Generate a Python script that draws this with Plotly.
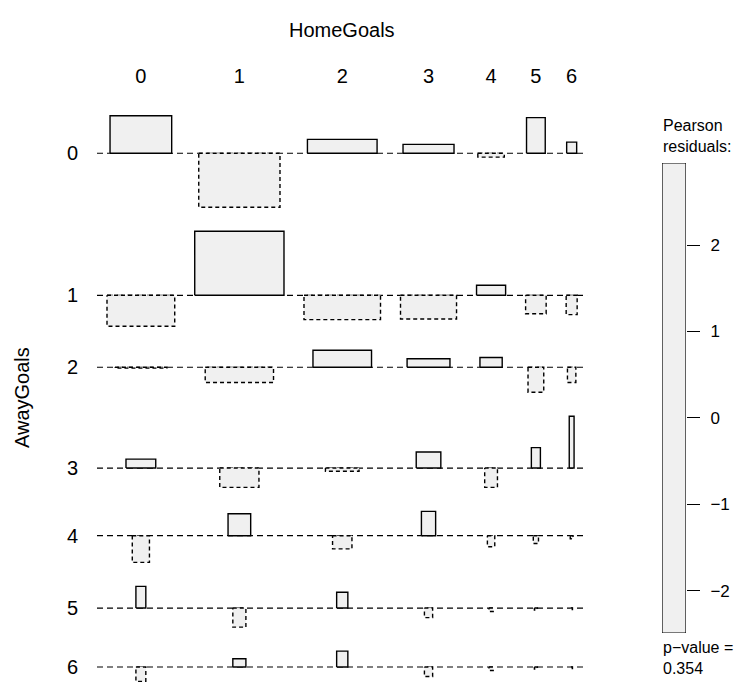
import numpy as np
import plotly.graph_objects as go

home_goals = ["0", "1", "2", "3", "4", "5", "6"]
away_goals = ["0", "1", "2", "3", "4", "5", "6"]

# marginal totals (matches)
away_totals = [116, 140, 82, 27, 9, 3, 3]
home_totals = [76, 132, 97, 52, 14, 7, 2]

# Pearson residuals, rows = AwayGoals, columns = HomeGoals
residuals = [
    [1.73, -2.49, 0.64, 0.41, -0.18, 1.64, 0.51],
    [-1.43, 2.95, -1.12, -1.09, 0.46, -0.85, -0.89],
    [-0.04, -0.70, 0.78, 0.39, 0.45, -1.15, -0.70],
    [0.41, -0.89, -0.15, 0.74, -0.89, 0.94, 2.39],
    [-1.23, 1.01, -0.61, 1.12, -0.51, -0.36, -0.14],
    [1.00, -0.88, 0.73, -0.44, -0.16, -0.09, -0.07],
    [-0.66, 0.38, 0.73, -0.44, -0.16, -0.09, -0.07],
]
p_value = 0.354

# the page body has an 8px margin, so the figure is drawn 8px in from the corner
OFF = 8
W, H = 746 - OFF, 683 - OFF
FONT = "Liberation Sans, Arial, Helvetica, sans-serif"
FILL = "#F0F0F0"
K = 12.8   # px per sqrt(expected)
S = 21.7   # px per residual unit
GAP_X = 20 / K
GAP_Y = 24 / S
LEFT_PX, TOP_PX = 97 - OFF, 115.7 - OFF

res = np.array(residuals)
n = sum(home_totals)
expected = np.outer(away_totals, home_totals) / n
widths = np.sqrt(expected)

# column layout: slot = widest cell in the column
slot = widths.max(axis=0)
col_left = GAP_X / 2 + np.concatenate([[0], np.cumsum(slot + GAP_X)[:-1]])
col_center = col_left + slot / 2
x_total = slot.sum() + GAP_X * len(slot)

# row layout: height = max positive + max negative residual in the row
pos = np.clip(res, 0, None).max(axis=1)
neg = -np.clip(res, None, 0).min(axis=1)
row_top = -np.concatenate([[0], np.cumsum(pos + neg + GAP_Y)[:-1]])
baseline = row_top - pos

fig = go.Figure()

for i in range(len(away_goals)):
    fig.add_trace(
        go.Scatter(
            x=[0, x_total], y=[baseline[i]] * 2, mode="lines",
            line=dict(color="black", width=1.2, dash="6px,4px"),
            hoverinfo="skip", showlegend=False,
        )
    )
    for j in range(len(home_goals)):
        r, w, c = res[i, j], widths[i, j], col_center[j]
        x0, x1 = c - w / 2, c + w / 2
        fig.add_trace(
            go.Scatter(
                x=[x0, x1, x1, x0, x0],
                y=[baseline[i], baseline[i], baseline[i] + r, baseline[i] + r, baseline[i]],
                mode="lines", fill="toself", fillcolor=FILL,
                line=dict(color="black", width=1.4, dash="solid" if r >= 0 else "4px,3px"),
                hovertemplate=f"Home {home_goals[j]}, Away {away_goals[i]}<br>residual {r:.2f}<extra></extra>",
                showlegend=False,
            )
        )

# legend bar
rmin, rmax = res.min(), res.max()
fig.add_trace(
    go.Scatter(
        x=[0, 1, 1, 0, 0], y=[rmin, rmin, rmax, rmax, rmin],
        mode="lines", fill="toself", fillcolor=FILL,
        line=dict(color="black", width=1.2),
        xaxis="x2", yaxis="y2", hoverinfo="skip", showlegend=False,
    )
)

plot_top = 88 - OFF
y_hi = (TOP_PX - plot_top) / S
y_lo = -(H - TOP_PX) / S
leg_top, leg_bot = 163 - OFF, 633 - OFF
tick_font = dict(family=FONT, size=20, color="black")

fig.update_layout(
    width=W, height=H,
    margin=dict(l=0, r=0, t=0, b=0),
    paper_bgcolor="white", plot_bgcolor="white",
    font=dict(family=FONT, color="black"),
    xaxis=dict(
        domain=[LEFT_PX / W, (LEFT_PX + x_total * K) / W], range=[0, x_total],
        side="top", tickvals=col_center, ticktext=home_goals, ticks="",
        showgrid=False, zeroline=False, showline=False, tickfont=tick_font,
        fixedrange=True,
    ),
    yaxis=dict(
        domain=[0, (H - plot_top) / H], range=[y_lo, y_hi],
        tickvals=baseline, ticktext=away_goals, ticks="", ticklabelstandoff=18,
        showgrid=False, zeroline=False, showline=False, tickfont=tick_font,
        fixedrange=True,
    ),
    xaxis2=dict(domain=[(662 - OFF) / W, (686 - OFF) / W], range=[0, 1],
                visible=False, anchor="y2"),
    yaxis2=dict(
        domain=[(H - leg_bot) / H, (H - leg_top) / H], range=[rmin, rmax],
        anchor="x2", side="right", tickvals=[-2, -1, 0, 1, 2],
        ticktext=["\u22122", "\u22121", "0", "1", "2"],
        ticks="outside", ticklen=13, tickcolor="black", tickwidth=1,
        ticklabelstandoff=7, showgrid=False, zeroline=False, showline=False,
        tickfont=dict(family=FONT, size=17, color="black"), fixedrange=True,
    ),
    annotations=[
        dict(text="HomeGoals", x=(LEFT_PX + x_total * K / 2) / W, y=1 - (30 - OFF) / H,
             xref="paper", yref="paper", showarrow=False,
             font=dict(size=20), xanchor="center", yanchor="middle"),
        dict(text="AwayGoals", x=(22 - OFF) / W, y=1 - (398 - OFF) / H, textangle=-90,
             xref="paper", yref="paper", showarrow=False,
             font=dict(size=20), xanchor="center", yanchor="middle"),
        dict(text="Pearson<br>residuals:", x=(661 - OFF) / W, y=1 - (115 - OFF) / H,
             xref="paper", yref="paper", showarrow=False, align="left",
             font=dict(size=16), xanchor="left", yanchor="top"),
        dict(text=f"p\u2212value =<br>{p_value}", x=(661 - OFF) / W, y=1 - (637 - OFF) / H,
             xref="paper", yref="paper", showarrow=False, align="left",
             font=dict(size=16), xanchor="left", yanchor="top"),
    ],
)

fig.write_html("out.html")
